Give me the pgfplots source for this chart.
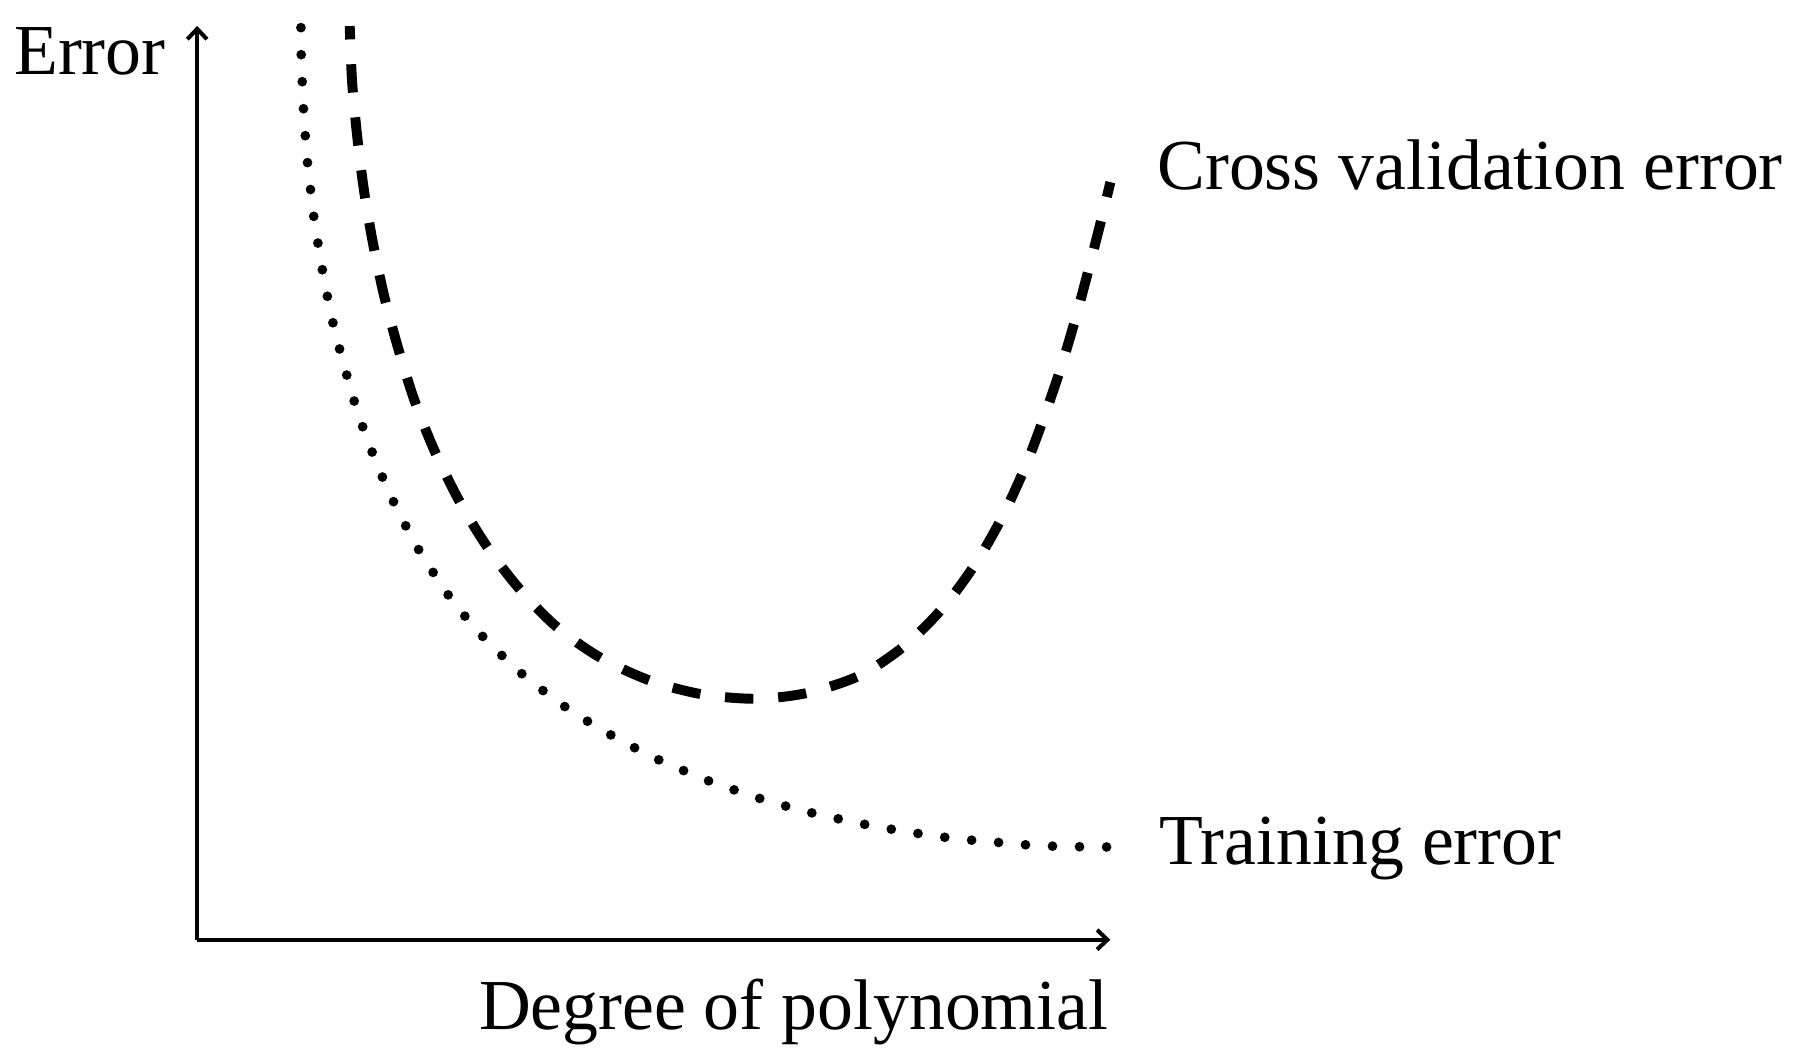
\documentclass[border=0pt]{standalone}
\usepackage{fontspec}
\setmainfont{Liberation Serif}
\usepackage{pgfplots}
\pgfplotsset{compat=1.18}
\usetikzlibrary{arrows.meta}
\begin{document}
\begin{tikzpicture}
\begin{axis}[
  scale only axis, width=7.92cm, height=7.925cm,
  xmin=0, xmax=792, ymin=0, ymax=792.5,
  axis lines=left,
  axis line style={line width=1pt, -{Straight Barb[length=0.09cm,width=0.17cm]}},
  xtick=\empty, ytick=\empty,
  clip=false,
  font=\fontsize{17.7}{21}\selectfont,
]
% Cross validation error (dashed)
\addplot[black, line width=2.45pt, smooth, tension=0.5, dash pattern=on 0.246cm off 0.2157cm, dash phase=0.13cm] coordinates {
(132.3,792.4) (134.3,745) (138.6,698.5) (144.4,651.7) (152.2,605.4) (162,559) (174,514) (188,469) (205,426) (226,383) (250,343) (278,306) (311,272) (349,245) (392,225) (437,213) (484,209) (529,214) (574.9,229.3) (614,255.3) (647.1,288.3) (675.2,326.4) (698.3,366.8) (718,409.7) (734,452) (749.8,498.4) (763,543.3) (775,588.6) (785,628) (792,657)
};
% Training error (dotted)
\addplot[black, line width=2.4pt, smooth, tension=0.5, line cap=round, dash pattern=on 0pt off 0.2345cm] coordinates {
(90,791) (90,774.5) (90.9,750.8) (91.8,727.7) (93.3,704.3) (95,680.6) (97.6,657.2) (100.2,633.7) (103.7,610.6) (107.4,587.5) (111.7,564.3) (116.3,541.2) (121.9,518.4) (128,496) (134.3,473.3) (141.5,450.7) (149.6,428.4) (158.3,406.8) (167.9,384.8) (178.3,364) (189.2,343.2) (201.7,323.2) (214.4,303.6) (228.6,285) (243.8,267.1) (260.3,250.4) (277.4,234.2) (295.6,219.4) (314.7,205) (334,192.3) (354.3,180.1) (374.8,168.9) (395.6,158.2) (417.3,148.6) (439.3,139.4) (461,131.6) (483.2,124) (506.1,117.1) (528.9,111) (551.7,105.8) (574.6,100.9) (597.7,96.6) (620.8,92.8) (644,89.4) (667.7,86.7) (691.1,84.7) (714.5,82.6) (738.2,81.3) (761.4,80.7) (790.8,80.4)
};
\node[anchor=base west, inner sep=0pt] at (axis cs:-159.4,750) {Error};
\node[anchor=base west, inner sep=0pt] at (axis cs:832,651) {Cross validation error};
\node[anchor=base west, inner sep=0pt] at (axis cs:834,65) {Training error};
\node[anchor=base east, inner sep=0pt] at (axis cs:791,-78) {Degree of polynomial};
\path (axis cs:-171,-106) rectangle (axis cs:1397,815);
\end{axis}
\end{tikzpicture}
\end{document}
